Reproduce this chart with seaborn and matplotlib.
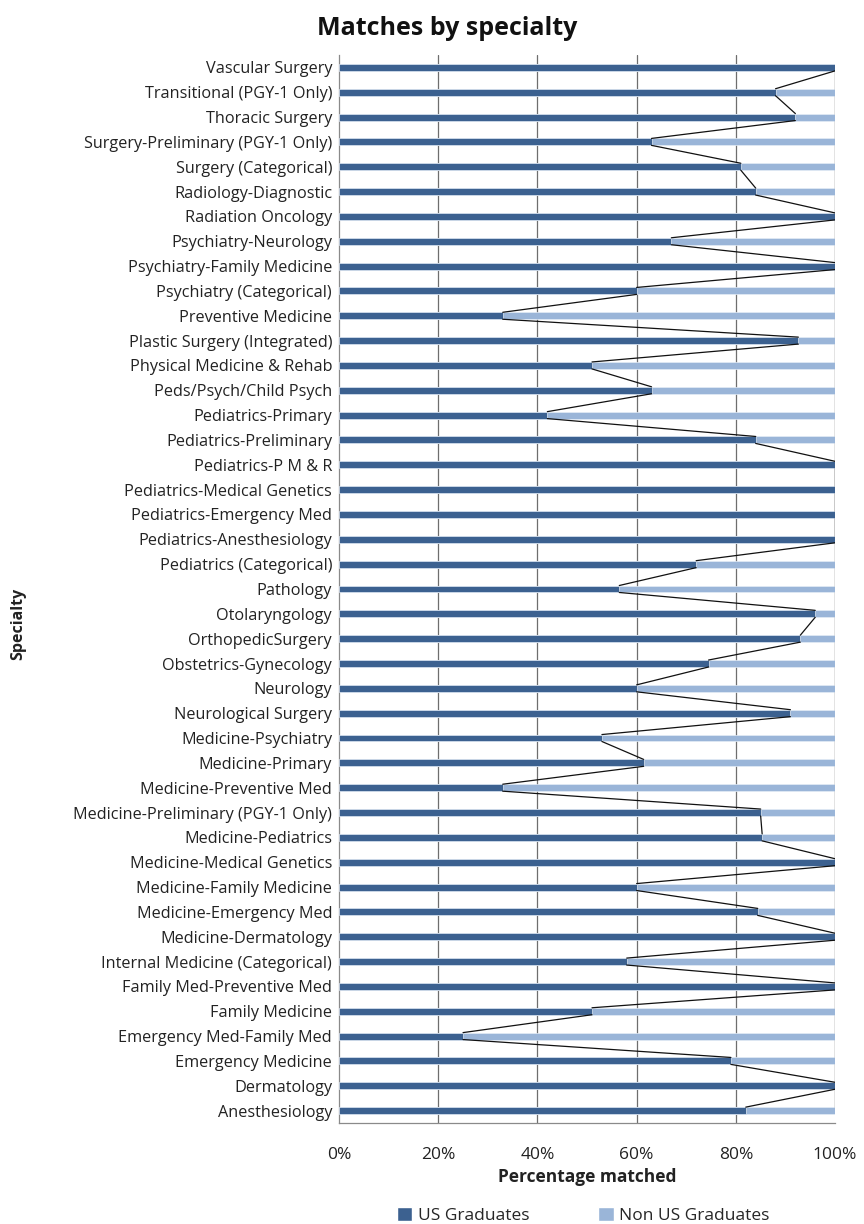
import numpy as np
import pandas as pd
import matplotlib
matplotlib.use("Agg")
import matplotlib.pyplot as plt
import seaborn as sns
from matplotlib.patches import Patch

sns.set_theme(style="white")
plt.rcParams['font.family'] = ['Open Sans', 'DejaVu Sans']

# Data, top to bottom as shown
specialties = [
    "Vascular Surgery", "Transitional (PGY-1 Only)", "Thoracic Surgery",
    "Surgery-Preliminary (PGY-1 Only)", "Surgery (Categorical)", "Radiology-Diagnostic",
    "Radiation Oncology", "Psychiatry-Neurology", "Psychiatry-Family Medicine",
    "Psychiatry (Categorical)", "Preventive Medicine", "Plastic Surgery (Integrated)",
    "Physical Medicine & Rehab", "Peds/Psych/Child Psych", "Pediatrics-Primary",
    "Pediatrics-Preliminary", "Pediatrics-P M & R", "Pediatrics-Medical Genetics",
    "Pediatrics-Emergency Med", "Pediatrics-Anesthesiology", "Pediatrics (Categorical)",
    "Pathology", "Otolaryngology", "OrthopedicSurgery", "Obstetrics-Gynecology",
    "Neurology", "Neurological Surgery", "Medicine-Psychiatry", "Medicine-Primary",
    "Medicine-Preventive Med", "Medicine-Preliminary (PGY-1 Only)", "Medicine-Pediatrics",
    "Medicine-Medical Genetics", "Medicine-Family Medicine", "Medicine-Emergency Med",
    "Medicine-Dermatology", "Internal Medicine (Categorical)", "Family Med-Preventive Med",
    "Family Medicine", "Emergency Med-Family Med", "Emergency Medicine",
    "Dermatology", "Anesthesiology",
]
us_pct = [
    100, 88, 92, 63, 81, 84, 100, 67, 100, 60, 33, 92.6, 51, 63, 42, 84, 100, 100,
    100, 100, 72, 56.5, 96, 93, 74.5, 60, 91, 53, 61.4, 33, 85, 85.3, 100, 60, 84.4,
    100, 58, 100, 51, 25, 79, 100, 82,
]
non_us_pct = [100 - v for v in us_pct]

df = pd.DataFrame({"Specialty": specialties, "US": us_pct, "NonUS": non_us_pct})
df["Total"] = df["US"] + df["NonUS"]

dark = "#3C6190"
light = "#9AB5D8"
bar_h = 0.28

fig = plt.figure(figsize=(8.64, 12.24), dpi=100)
ax = fig.add_axes([0.3924, 0.0825, 0.5741, 0.8726])

for x in [20, 40, 60, 80]:
    ax.axvline(x, color="#6e6e6e", lw=0.9, zorder=0)

sns.barplot(data=df, x="Total", y="Specialty", color=light, width=bar_h,
            edgecolor="#e4ecf6", linewidth=0.5, saturation=1, ax=ax, zorder=2)
sns.barplot(data=df, x="US", y="Specialty", color=dark, width=bar_h,
            edgecolor="#e4ecf6", linewidth=0.5, saturation=1, ax=ax, zorder=3)

# Excel-style series lines between consecutive bars
n = len(df)
for i in range(n - 1):
    ax.plot([df["US"][i], df["US"][i + 1]], [i + bar_h / 2, i + 1 - bar_h / 2],
            color="#111111", lw=0.9, zorder=4)
    ax.plot([df["Total"][i], df["Total"][i + 1]], [i + bar_h / 2, i + 1 - bar_h / 2],
            color="#222222", lw=0.9, zorder=4)

ax.set_xlim(0, 100)
ax.set_ylim(n - 0.5, -0.5)
ax.set_xticks([0, 20, 40, 60, 80, 100])
ax.set_xticklabels(["0%", "20%", "40%", "60%", "80%", "100%"], fontsize=12.5, color="#222222")
ax.tick_params(axis="x", direction="out", length=5, width=0.9, color="#888888", pad=12)
ax.tick_params(axis="y", length=0, pad=5, labelsize=11.7, labelcolor="#222222")

for s in ["top", "right"]:
    ax.spines[s].set_visible(False)
for s in ["left", "bottom"]:
    ax.spines[s].set_color("#8a8a8a")
    ax.spines[s].set_linewidth(0.9)

ax.set_xlabel("Percentage matched", fontsize=12.5, fontweight="bold", color="#222222", labelpad=4)
ax.set_ylabel("")
fig.text(0.021, 0.49, "Specialty", rotation=90, fontsize=11.5, fontweight="bold",
         color="#222222", ha="center", va="center")
fig.text(0.517, 0.977, "Matches by specialty", fontsize=18, fontweight="bold",
         color="#111111", ha="center", va="center")

handles = [Patch(facecolor=dark, label="US Graduates"),
           Patch(facecolor=light, label="Non US Graduates")]
fig.legend(handles=handles, loc="center", bbox_to_anchor=(0.675, 0.007), ncol=2,
           frameon=False, fontsize=12.5, handlelength=0.9, handleheight=0.9,
           handletextpad=0.3, columnspacing=4)

fig.savefig("out.png", dpi=100)
